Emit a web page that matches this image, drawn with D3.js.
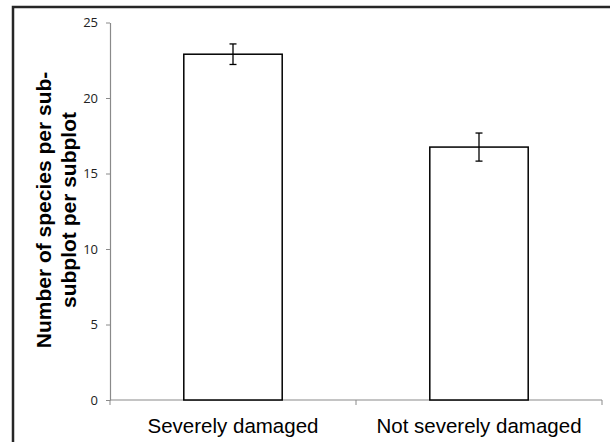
<!DOCTYPE html>
<html>
  <head>
    <meta http-equiv="Content-Type" content="text/html;charset=utf-8">
    <title>Species per subplot</title>
    <script src="https://d3js.org/d3.v7.min.js"></script>
    <style>
      html, body {
        margin: 0;
        padding: 0;
        width: 100%;
        height: 100%;
        background: #fff;
      }
      svg { display: block; }
    </style>
  </head>
  <body>
    <script type="text/javascript">

// data
var categories = ["Severely damaged", "Not severely damaged"];
var means = [22.9, 16.75];
var errors = [0.68, 0.93];
var yTicks = [0, 5, 10, 15, 20, 25];
var yTitle = ["Number of species per sub-", "subplot per subplot"];

var width = 610, height = 442;
var plotLeft = 110, plotRight = 602, plotTop = 22.5, plotBottom = 400;

var svg = d3.select("body").append("svg")
    .attr("width", width)
    .attr("height", height);

// outer frame of the chart object
svg.append("rect")
    .attr("x", 13).attr("y", 7)
    .attr("width", 640).attr("height", 460)
    .style("fill", "none")
    .style("stroke", "#262626")
    .style("stroke-width", 2.5);

var x = d3.scaleBand()
    .domain(categories)
    .range([plotLeft, plotRight])
    .paddingInner(0.6)
    .paddingOuter(0.3);

var y = d3.scaleLinear()
    .domain([0, 25])
    .range([plotBottom, plotTop]);

// y axis
var yAxis = svg.append("g")
    .attr("transform", "translate(" + plotLeft + ",0)")
    .call(d3.axisLeft(y).tickValues(yTicks).tickSize(4).tickSizeOuter(0).tickPadding(8));
yAxis.select(".domain").style("stroke", "#8a8a8a").style("stroke-width", 1.2);
yAxis.selectAll(".tick line").style("stroke", "#8a8a8a");
yAxis.selectAll("text")
    .style("font-family", "'Open Sans', sans-serif")
    .style("font-size", "13px")
    .style("fill", "#222");

// x axis with ticks on category boundaries
var xAxis = svg.append("g")
    .attr("transform", "translate(0," + plotBottom + ")");
xAxis.append("line")
    .attr("x1", plotLeft).attr("x2", plotRight)
    .style("stroke", "#8a8a8a").style("stroke-width", 1.2);
var bounds = d3.range(categories.length + 1).map(function(i) {
  return plotLeft + i * (plotRight - plotLeft) / categories.length;
});
xAxis.selectAll(".xt").data(bounds).enter().append("line")
    .attr("x1", function(d) { return d; })
    .attr("x2", function(d) { return d; })
    .attr("y1", 0).attr("y2", 5)
    .style("stroke", "#8a8a8a");
xAxis.selectAll(".xl").data(categories).enter().append("text")
    .attr("x", function(d) { return x(d) + x.bandwidth() / 2; })
    .attr("y", 33)
    .attr("text-anchor", "middle")
    .style("font-family", "'Liberation Sans', Arial, sans-serif")
    .style("font-size", "20.5px")
    .style("fill", "#000")
    .text(function(d) { return d; });

// bars
svg.selectAll(".bar").data(means).enter().append("rect")
    .attr("x", function(d, i) { return x(categories[i]); })
    .attr("y", function(d) { return y(d); })
    .attr("width", x.bandwidth())
    .attr("height", function(d) { return y(0) - y(d); })
    .style("fill", "#fff")
    .style("stroke", "#000")
    .style("stroke-width", 1.5);

// error bars
var eb = svg.selectAll(".err").data(means).enter().append("g");
eb.append("line")
    .attr("x1", function(d, i) { return x(categories[i]) + x.bandwidth() / 2; })
    .attr("x2", function(d, i) { return x(categories[i]) + x.bandwidth() / 2; })
    .attr("y1", function(d, i) { return y(d + errors[i]); })
    .attr("y2", function(d, i) { return y(d - errors[i]); });
[1, -1].forEach(function(s) {
  eb.append("line")
      .attr("x1", function(d, i) { return x(categories[i]) + x.bandwidth() / 2 - 3.5; })
      .attr("x2", function(d, i) { return x(categories[i]) + x.bandwidth() / 2 + 3.5; })
      .attr("y1", function(d, i) { return y(d + s * errors[i]); })
      .attr("y2", function(d, i) { return y(d + s * errors[i]); });
});
eb.selectAll("line").style("stroke", "#000").style("stroke-width", 1.3);

// y title, two lines rotated
var title = svg.append("text")
    .attr("transform", "translate(56,210) rotate(-90)")
    .attr("text-anchor", "middle")
    .style("font-family", "'Liberation Sans', Arial, sans-serif")
    .style("font-size", "21px")
    .style("font-weight", "bold")
    .style("fill", "#000");
title.selectAll("tspan").data(yTitle).enter().append("tspan")
    .attr("x", 0)
    .attr("dy", function(d, i) { return i === 0 ? -5 : 25; })
    .text(function(d) { return d; });

    </script>
  </body>
</html>
